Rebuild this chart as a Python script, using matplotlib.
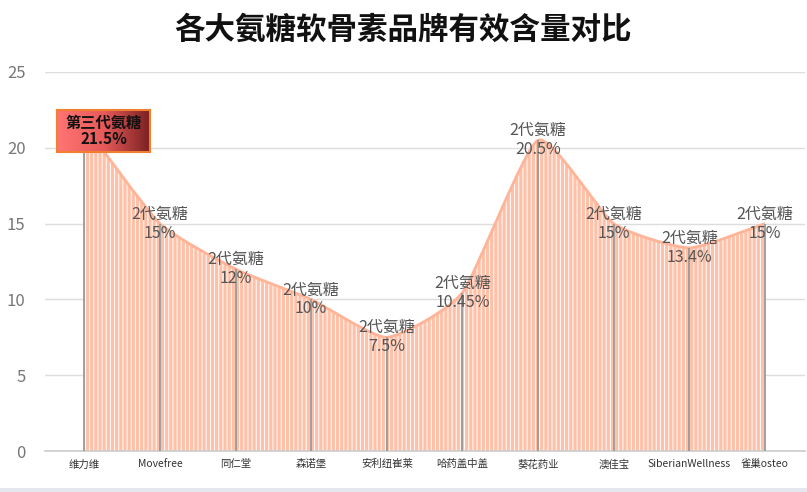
import numpy as np
import matplotlib
matplotlib.use("Agg")
import matplotlib.pyplot as plt
from matplotlib.path import Path
from matplotlib.patches import PathPatch, Rectangle
from matplotlib.colors import LinearSegmentedColormap

plt.rcParams['font.family'] = ['Noto Sans CJK SC', 'DejaVu Sans']
plt.rcParams['hatch.linewidth'] = 0.7

brands = ['维力维', 'Movefree', '同仁堂', '森诺堡', '安利纽崔莱', '哈药盖中盖',
          '葵花药业', '澳佳宝', 'SiberianWellness', '雀巢osteo']
content = [21.5, 15, 12, 10, 7.5, 10.45, 20.5, 15, 13.4, 15]
gen_label = ['第三代氨糖', '2代氨糖', '2代氨糖', '2代氨糖', '2代氨糖', '2代氨糖',
             '2代氨糖', '2代氨糖', '2代氨糖', '2代氨糖']
pct_label = ['21.5%', '15%', '12%', '10%', '7.5%', '10.45%', '20.5%', '15%', '13.4%', '15%']
yticks = [0, 5, 10, 15, 20, 25]

fig = plt.figure(figsize=(8.07, 4.92), dpi=100)
ax = fig.add_axes([45 / 807, 41 / 492, 760 / 807, 379 / 492])

x = np.arange(len(brands))
y = np.array(content, dtype=float)

# lightly smoothed curve through the points (cubic bezier)
t = 0.09
pts = np.column_stack([x, y])
verts = [pts[0]]
codes = [Path.MOVETO]
n = len(pts)
for i in range(n - 1):
    p0 = pts[max(i - 1, 0)]
    p1 = pts[i]
    p2 = pts[i + 1]
    p3 = pts[min(i + 2, n - 1)]
    c1 = p1 + (p2 - p0) * t
    c2 = p2 - (p3 - p1) * t
    verts += [c1, c2, p2]
    codes += [Path.CURVE4] * 3

area_verts = [(x[0], 0)] + [tuple(v) for v in verts] + [(x[-1], 0), (x[0], 0)]
area_codes = [Path.MOVETO, Path.LINETO] + codes[1:] + [Path.LINETO, Path.CLOSEPOLY]
ax.add_patch(PathPatch(Path(area_verts, area_codes), facecolor='#ffc0a8',
                       edgecolor='white', hatch='||||', lw=0, zorder=2))
ax.add_patch(PathPatch(Path(verts, codes), fill=False, edgecolor='#ffb498',
                       lw=2, zorder=3))

ax.vlines(x, 0, y, color='#999999', lw=1.3, zorder=3)

for i in range(1, n):
    ax.text(x[i], y[i], gen_label[i] + '\n' + pct_label[i], ha='center', va='center',
            fontsize=11.5, color='#555555', linespacing=1.15, zorder=5)

# highlighted first label
bx0, bx1, by0, by1 = -0.36, 0.87, 19.75, 22.5
grad = np.linspace(0, 1, 256).reshape(1, -1)
cmap = LinearSegmentedColormap.from_list('r', ['#ff7474', '#e85a5a', '#772020'])
ax.imshow(grad, extent=[bx0, bx1, by0, by1], cmap=cmap, aspect='auto', zorder=6)
ax.add_patch(Rectangle((bx0, by0), bx1 - bx0, by1 - by0, fill=False,
                       edgecolor='#f08030', lw=1.5, zorder=7))
ax.text((bx0 + bx1) / 2, (by0 + by1) / 2, gen_label[0] + '\n' + pct_label[0],
        ha='center', va='center', fontsize=11, fontweight='bold', color='#111111',
        linespacing=1.05, zorder=8)

ax.set_xlim(-0.52, 9.53)
ax.set_ylim(0, 25)
ax.set_yticks(yticks)
ax.set_xticks(x)
ax.set_xticklabels(brands, fontsize=7.5, color='#333333')
ax.tick_params(axis='y', labelsize=12, colors='#777777', length=0, pad=14)
ax.tick_params(axis='x', length=0, pad=6)
ax.grid(axis='y', color='#dddddd', lw=1, zorder=0)
ax.set_axisbelow(True)
for s in ['top', 'right', 'left']:
    ax.spines[s].set_visible(False)
ax.spines['bottom'].set_color('#cccccc')
ax.spines['bottom'].set_linewidth(1.2)

fig.text(0.5, 0.94, '各大氨糖软骨素品牌有效含量对比', ha='center', va='center',
         fontsize=22, fontweight='bold', color='#111111')

fig.add_artist(Rectangle((0, 0), 1, 4 / 492, transform=fig.transFigure,
                         facecolor='#e4e8ee', edgecolor='none'))

fig.savefig('out.png', dpi=100)
